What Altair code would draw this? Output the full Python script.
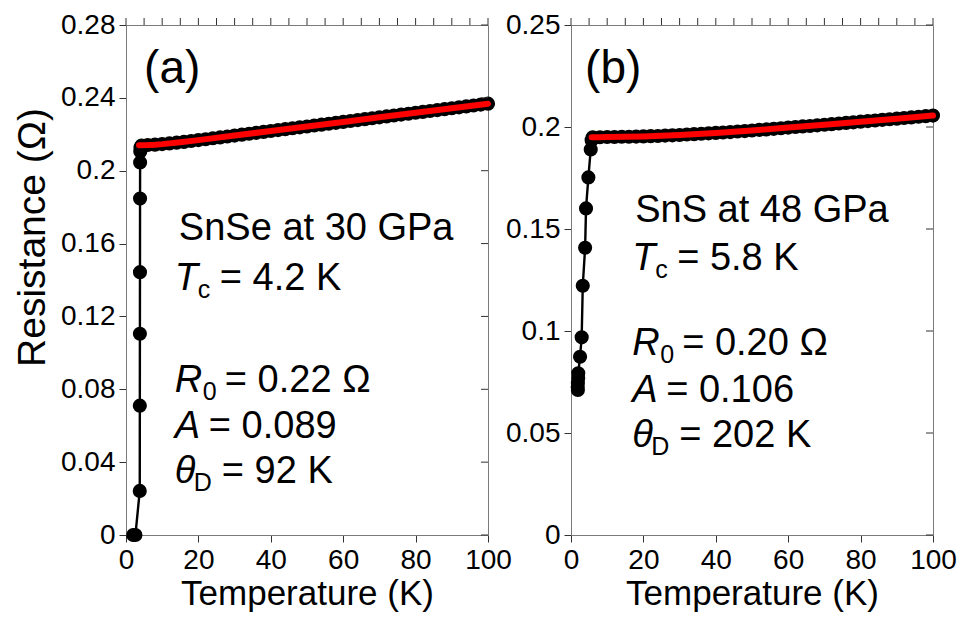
import altair as alt
import pandas as pd

FONT = "Liberation Sans"

# ---------------- SnSe at 30 GPa ----------------
snse_T = [2.0, 2.6, 3.80, 3.82, 3.84, 3.86, 3.88, 3.90, 3.95, 4.0, 4.3,
          6, 8, 10, 12, 14, 16, 18, 20, 22, 24, 26, 28, 30, 32, 34, 36, 38, 40,
          42, 44, 46, 48, 50, 52, 54, 56, 58, 60, 62, 64, 66, 68, 70, 72, 74, 76,
          78, 80, 82, 84, 86, 88, 90, 92, 94, 96, 98, 100]
snse_R = [0.0, 0.0, 0.0242, 0.0710, 0.1105, 0.1443, 0.1847, 0.2045, 0.2105, 0.2128, 0.2138,
          0.2141, 0.2143, 0.2146, 0.2150, 0.2154, 0.2158, 0.2163, 0.2168, 0.2173, 0.2178,
          0.2183, 0.2188, 0.2193, 0.2198, 0.2203, 0.2208, 0.2213, 0.2218, 0.2223, 0.2228,
          0.2233, 0.2238, 0.2243, 0.2248, 0.2253, 0.2258, 0.2263, 0.2268, 0.2273, 0.2278,
          0.2283, 0.2288, 0.2293, 0.2298, 0.2303, 0.2308, 0.2313, 0.2318, 0.2323, 0.2328,
          0.2333, 0.2338, 0.2343, 0.2348, 0.2353, 0.2358, 0.2363, 0.2368]
# Bloch-Grüneisen fit, normal state
snse_fit_T = [3.6, 6, 8, 10, 15, 20, 30, 40, 50, 60, 70, 80, 90, 100]
snse_fit_R = [0.2140, 0.2141, 0.2143, 0.2146, 0.2156, 0.2168, 0.2193, 0.2218,
              0.2243, 0.2268, 0.2293, 0.2318, 0.2343, 0.2368]

# ---------------- SnS at 48 GPa ----------------
sns_T = [1.9, 1.85, 1.9, 2.0, 2.0, 2.5, 2.95, 3.25, 3.9, 4.15, 4.8, 5.45, 5.7,
         6, 8, 10, 12, 14, 16, 18, 20, 22, 24, 26, 28, 30, 32, 34, 36, 38, 40,
         42, 44, 46, 48, 50, 52, 54, 56, 58, 60, 62, 64, 66, 68, 70, 72, 74, 76,
         78, 80, 82, 84, 86, 88, 90, 92, 94, 96, 98, 100]
sns_R = [0.0711, 0.0725, 0.0744, 0.0770, 0.0793, 0.0874, 0.0969, 0.1222, 0.1408,
         0.1601, 0.1753, 0.1890, 0.1935,
         0.1950, 0.1950, 0.1951, 0.1951, 0.1952, 0.1952, 0.1953, 0.1954, 0.1955,
         0.1956, 0.1958, 0.1959, 0.1961, 0.1963, 0.1965, 0.1967, 0.1969, 0.1971,
         0.1973, 0.1975, 0.1978, 0.1980, 0.1983, 0.1986, 0.1988, 0.1991, 0.1994,
         0.1997, 0.2000, 0.2003, 0.2005, 0.2008, 0.2011, 0.2014, 0.2017, 0.2020,
         0.2023, 0.2026, 0.2029, 0.2032, 0.2035, 0.2038, 0.2041, 0.2044, 0.2047,
         0.2050, 0.2053, 0.2056]
sns_fit_T = [5.7, 8, 10, 15, 20, 25, 30, 40, 50, 60, 70, 80, 90, 100]
sns_fit_R = [0.1950, 0.1950, 0.1951, 0.1952, 0.1954, 0.1957, 0.1961, 0.1971,
             0.1983, 0.1997, 0.2011, 0.2026, 0.2041, 0.2056]

# axis ticks
x_ticks = list(range(0, 101, 5))
snse_y_ticks = [0, 0.04, 0.08, 0.12, 0.16, 0.2, 0.24, 0.28]
sns_y_ticks = [0, 0.05, 0.1, 0.15, 0.2, 0.25]

W, H = 362, 510
AXIS_GRAY = "#7a7a7a"
TICK_COLOR = "#333333"


def panel(T, R, fit_T, fit_R, y_ticks, y_max, y_title, tag, tag_pos, lines, anchor):
    df = pd.DataFrame({"T": T, "R": R, "i": range(len(T))})
    fit = pd.DataFrame({"T": fit_T, "R": fit_R})

    x_enc = alt.X(
        "T:Q",
        scale=alt.Scale(domain=[0, 100], nice=False, zero=False),
        axis=alt.Axis(
            values=x_ticks,
            labelExpr="datum.value % 20 === 0 ? datum.label : ''",
            format="d",
            title="Temperature (K)",
        ),
    )
    if y_title:
        y_axis = alt.Axis(values=y_ticks, format="~g", title=y_title,
                          titleFontSize=39, titleY=212, titlePadding=8)
    else:
        y_axis = alt.Axis(values=y_ticks, format="~g", title="")
    y_enc = alt.Y("R:Q", scale=alt.Scale(domain=[0, y_max], nice=False), axis=y_axis)

    line = alt.Chart(df).mark_line(color="black", strokeWidth=2.4).encode(
        x=x_enc, y=y_enc, order="i:Q")
    pts = alt.Chart(df).mark_circle(color="black", size=200, opacity=1).encode(
        x="T:Q", y="R:Q")
    fit_line = alt.Chart(fit).mark_line(color="#ff0000", strokeWidth=6,
                                        strokeCap="round").encode(x="T:Q", y="R:Q")

    # mirrored ticks: top edge (outward) and right edge (inward)
    top_ticks = alt.Chart(pd.DataFrame({"v": x_ticks})).mark_rule(
        color=TICK_COLOR, strokeWidth=1).encode(
        x="v:Q", y=alt.value(0), y2=alt.value(-7))
    right_ticks = alt.Chart(pd.DataFrame({"v": y_ticks})).mark_rule(
        color=TICK_COLOR, strokeWidth=1).encode(
        y="v:Q", x=alt.value(W - 7), x2=alt.value(W))

    layers = [line, pts, fit_line, top_ticks, right_ticks]

    # panel tag
    layers.append(
        alt.Chart(pd.DataFrame({"T": [tag_pos[0]], "R": [tag_pos[1]], "s": [tag]}))
        .mark_text(align="left", baseline="alphabetic", font=FONT, fontSize=46, color="black")
        .encode(x="T:Q", y="R:Q", text="s:N"))

    # annotation lines: list of (R baseline, [(text, dx, style)])
    for r, segs in lines:
        for text, dx, style in segs:
            kw = dict(align="left", baseline="alphabetic", font=FONT, color="black",
                      fontSize=38, dx=dx)
            if style == "i":
                kw["fontStyle"] = "italic"
            elif style == "sub":
                kw["fontSize"] = 25
                kw["dy"] = 8
            layers.append(
                alt.Chart(pd.DataFrame({"T": [anchor], "R": [r], "s": [text]}))
                .mark_text(**kw).encode(x="T:Q", y="R:Q", text="s:N"))

    return alt.layer(*layers).properties(width=W, height=H)


left = panel(
    snse_T, snse_R, snse_fit_T, snse_fit_R, snse_y_ticks, 0.28, "Resistance (Ω)",
    "(a)", (5.0, 0.248),
    [
        (0.162, [("SnSe at 30 GPa", 4, "n")]),
        (0.1345, [("T", 0, "i"), ("c", 23, "sub"), ("= 4.2 K", 45, "n")]),
        (0.0785, [("R", 0, "i"), ("0", 28, "sub"), ("= 0.22 Ω", 50, "n")]),
        (0.0533, [("A", 0, "i"), ("= 0.089", 34, "n")]),
        (0.0286, [("θ", 0, "i"), ("D", 19, "sub"), ("= 92 K", 47, "n")]),
    ],
    13.5,
)

right = panel(
    sns_T, sns_R, sns_fit_T, sns_fit_R, sns_y_ticks, 0.25, None,
    "(b)", (3.9, 0.2216),
    [
        (0.1534, [("SnS at 48 GPa", 3, "n")]),
        (0.1299, [("T", 0, "i"), ("c", 23, "sub"), ("= 5.8 K", 45, "n")]),
        (0.0882, [("R", 0, "i"), ("0", 28, "sub"), ("= 0.20 Ω", 50, "n")]),
        (0.0652, [("A", 0, "i"), ("= 0.106", 34, "n")]),
        (0.0431, [("θ", 0, "i"), ("D", 19, "sub"), ("= 202 K", 47, "n")]),
    ],
    16.9,
)

chart = (
    alt.hconcat(left, right, spacing=83, bounds="flush")
    .properties(padding={"left": 13, "top": 10, "right": 0, "bottom": 0},
                background="white")
    .configure_view(stroke=AXIS_GRAY, strokeWidth=1)
    .configure_axis(
        grid=False,
        domainColor=AXIS_GRAY,
        tickColor=TICK_COLOR,
        tickSize=7,
        labelFont=FONT,
        labelFontSize=28,
        labelColor="black",
        labelPadding=4,
        titleFont=FONT,
        titleFontSize=35,
        titleFontWeight="normal",
        titleColor="black",
        titlePadding=2,
        labelFlush=False,
        labelOverlap=False,
    )
)

chart.save("out.html", embed_options={"renderer": "svg", "actions": False})
